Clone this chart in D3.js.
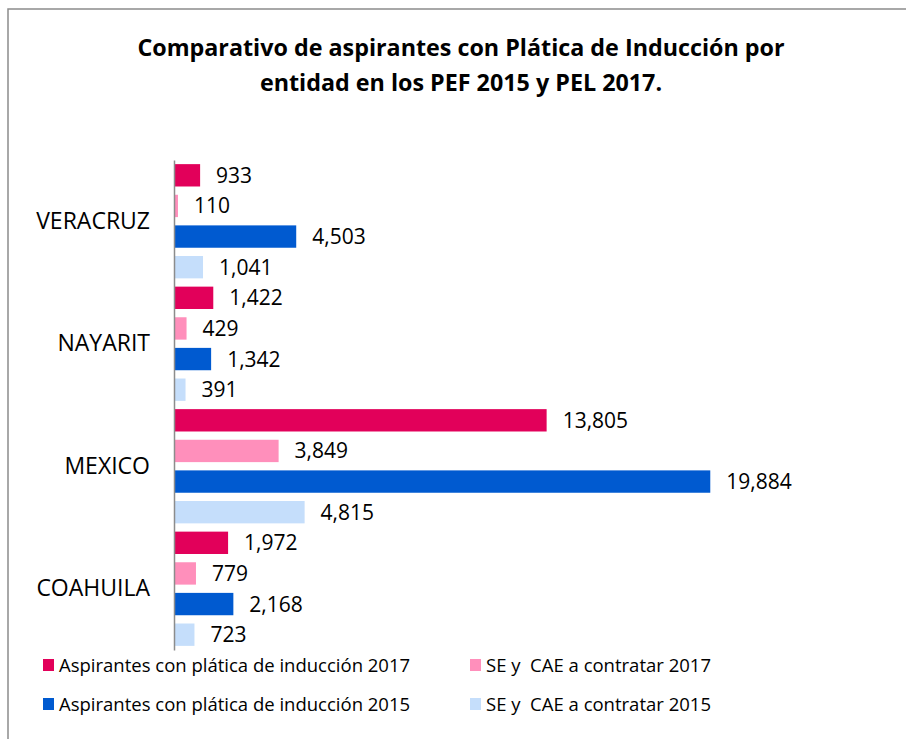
<!DOCTYPE html>
<html>
<head>
<meta charset="utf-8">
<script src="https://cdn.jsdelivr.net/npm/d3@7"></script>
<style>
  body { margin: 0; background: #fff; }
  text { font-family: "Open Sans", "Liberation Sans", sans-serif; fill: #000; white-space: pre; }
</style>
</head>
<body>
<script>
// categories top to bottom, one value per series
const estados = ['VERACRUZ', 'NAYARIT', 'MEXICO', 'COAHUILA'];
const series = [
  'Aspirantes con plática de inducción 2017',
  'SE y  CAE a contratar 2017',
  'Aspirantes con plática de inducción 2015',
  'SE y  CAE a contratar 2015'
];
const aspirantes2017 = [933, 1422, 13805, 1972];
const seCae2017 = [110, 429, 3849, 779];
const aspirantes2015 = [4503, 1342, 19884, 2168];
const seCae2015 = [1041, 391, 4815, 723];
const colores = ['#e2005a', '#ff8fbb', '#005ad0', '#c5defb'];

const valores = [aspirantes2017, seCae2017, aspirantes2015, seCae2015];
let data = estados.map((e, i) => ({
  estado: e,
  vals: series.map((s, j) => ({ serie: s, v: valores[j][i], c: colores[j] }))
}));

let w = 906, h = 739;
let svg = d3.select('body').append('svg')
  .attr('width', w)
  .attr('height', h);

// outer chart border (goes off the right/bottom edge like the source)
svg.append('rect')
  .attr('x', 8).attr('y', 9)
  .attr('width', 1000).attr('height', 1000)
  .attr('fill', 'none')
  .attr('stroke', '#8c8c8c')
  .attr('stroke-width', 1.5);

// title
svg.append('text')
  .attr('x', 461).attr('y', 56)
  .attr('text-anchor', 'middle')
  .style('font-weight', 700).style('font-size', '23.3px')
  .text('Comparativo de aspirantes con Plática de Inducción por');
svg.append('text')
  .attr('x', 461).attr('y', 91)
  .attr('text-anchor', 'middle')
  .style('font-weight', 700).style('font-size', '23.3px')
  .text('entidad en los PEF 2015 y PEL 2017.');

// scales
let x = d3.scaleLinear().domain([0, 25000]).range([175, 848]);
let y = d3.scaleBand().domain(estados).range([160, 650]);
let y1 = d3.scaleBand().domain(series).range([0, y.bandwidth()])
  .paddingInner(0.27).paddingOuter(0.135);

let grupos = svg.selectAll('.grupo')
  .data(data)
  .enter()
    .append('g')
    .attr('transform', d => `translate(0,${y(d.estado)})`);

grupos.selectAll('rect')
  .data(d => d.vals)
  .enter()
    .append('rect')
    .attr('x', x(0))
    .attr('y', d => y1(d.serie))
    .attr('width', d => x(d.v) - x(0))
    .attr('height', y1.bandwidth())
    .attr('fill', d => d.c);

grupos.selectAll('.bar-label')
  .data(d => d.vals)
  .enter()
    .append('text')
    .classed('bar-label', true)
    .attr('x', d => x(d.v) + 16)
    .attr('y', d => y1(d.serie) + y1.bandwidth() / 2)
    .attr('dy', '0.36em')
    .style('font-size', '21px')
    .text(d => d3.format(',')(d.v));

// category axis, no ticks
let yAxis = svg.append('g')
  .attr('transform', `translate(${x(0) - 1},0)`)
  .call(d3.axisLeft(y).tickSize(0).tickPadding(24));
yAxis.select('.domain').attr('stroke', '#8c8c8c').attr('stroke-width', 1.5);
yAxis.selectAll('text')
  .style('font-size', '23px')
  .style('font-family', '"Open Sans", sans-serif')
  .attr('fill', '#000');

// legend, two columns by two rows
let leg = svg.selectAll('.leg')
  .data(series)
  .enter()
    .append('g')
    .attr('transform', (d, i) => `translate(${i % 2 ? 470 : 43},${i < 2 ? 665 : 704})`);
leg.append('rect')
  .attr('x', 0).attr('y', -6)
  .attr('width', 11).attr('height', 12)
  .attr('fill', (d, i) => colores[i]);
leg.append('text')
  .attr('x', 16).attr('dy', '0.36em')
  .style('font-size', '18.5px')
  .text(d => d);
</script>
</body>
</html>
